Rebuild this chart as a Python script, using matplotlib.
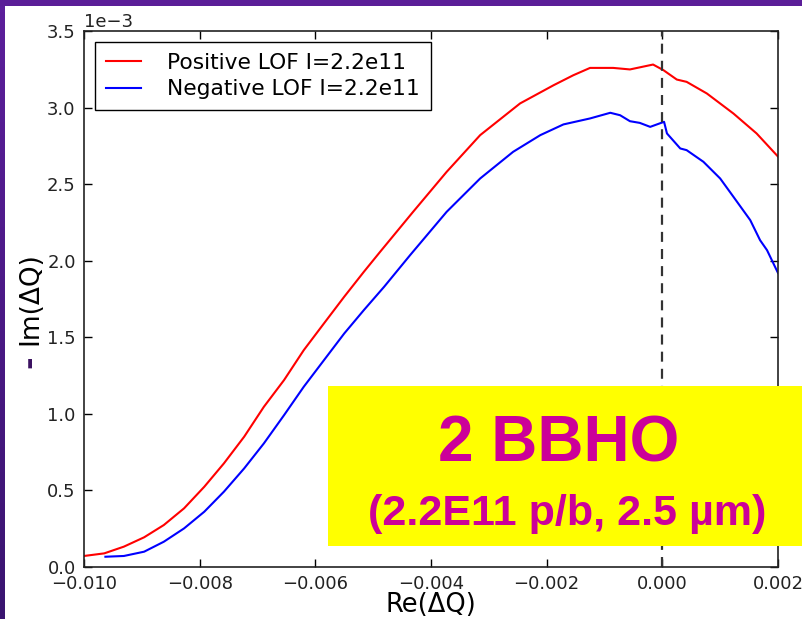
import numpy as np
import matplotlib
matplotlib.use("Agg")
import matplotlib.pyplot as plt
from matplotlib.patches import Rectangle
from matplotlib.colors import LinearSegmentedColormap

# Positive LOF curve (Re, -Im in units of 1e-3)
pos_re = [-0.01000, -0.00965, -0.00931, -0.00896, -0.00862, -0.00827, -0.00792,
          -0.00758, -0.00723, -0.00689, -0.00654, -0.00620, -0.00585, -0.00550,
          -0.00516, -0.00488, -0.00431, -0.00373, -0.00315, -0.00246, -0.00188,
          -0.00154, -0.00125, -0.00085, -0.00056, -0.00016, 0.00002, 0.00025,
          0.00042, 0.00077, 0.00123, 0.00163, 0.00200]
pos_im = [0.072, 0.089, 0.133, 0.194, 0.274, 0.383, 0.524,
          0.677, 0.851, 1.046, 1.221, 1.416, 1.591, 1.765,
          1.928, 2.058, 2.319, 2.580, 2.820, 3.027, 3.146,
          3.211, 3.259, 3.259, 3.249, 3.281, 3.244, 3.183,
          3.168, 3.092, 2.961, 2.831, 2.680]

# Negative LOF curve
neg_re = [-0.00963, -0.00931, -0.00896, -0.00862, -0.00827, -0.00792, -0.00758,
          -0.00723, -0.00689, -0.00654, -0.00620, -0.00585, -0.00550, -0.00516,
          -0.00481, -0.00436, -0.00373, -0.00315, -0.00258, -0.00211, -0.00171,
          -0.00125, -0.00090, -0.00073, -0.00056, -0.00039, -0.00021, 0.00003,
          0.00008, 0.00031, 0.00042, 0.00071, 0.00100, 0.00123, 0.00152,
          0.00169, 0.00181, 0.00200]
neg_im = [0.067, 0.072, 0.100, 0.165, 0.252, 0.361, 0.492,
          0.644, 0.807, 0.992, 1.177, 1.351, 1.525, 1.678,
          1.830, 2.037, 2.319, 2.537, 2.711, 2.820, 2.890,
          2.929, 2.966, 2.950, 2.911, 2.900, 2.874, 2.907,
          2.831, 2.733, 2.722, 2.646, 2.537, 2.417, 2.265,
          2.134, 2.069, 1.920]

labels = ["Positive LOF I=2.2e11", "Negative LOF I=2.2e11"]

W, H = 802, 619
fig = plt.figure(figsize=(W / 100, H / 100), dpi=100)
fig.patch.set_facecolor("#5b1e98")

# white picture area on the purple slide
fig.patches.append(Rectangle((5 / W, 0), 1, 1 - 6 / H, transform=fig.transFigure,
                             facecolor="white", edgecolor="none", zorder=-10))
# darker gradient down the left strip
grad_ax = fig.add_axes([0, 0, 5 / W, 1 - 6 / H])
cmap = LinearSegmentedColormap.from_list("slide", ["#5c1f9b", "#3a1470"])
grad_ax.imshow(np.linspace(0, 1, 100).reshape(-1, 1), aspect="auto", cmap=cmap)
grad_ax.axis("off")

ax = fig.add_axes([84 / W, 1 - 567 / H, (778 - 84) / W, (567 - 31) / H])
ax.set_zorder(2)
ax.plot(pos_re, np.array(pos_im) * 1e-3, color="red", lw=1.5, label=labels[0])
ax.plot(neg_re, np.array(neg_im) * 1e-3, color="blue", lw=1.5, label=labels[1])
ax.axvline(0.0, color="#333333", lw=1.6, linestyle=(0, (4.5, 3.2)))

ax.set_xlim(-0.010, 0.002)
ax.set_ylim(0, 0.0035)
ax.set_xticks(np.arange(-0.010, 0.0021, 0.002))
ax.set_yticks(np.arange(0, 0.00351, 0.0005))
ax.ticklabel_format(axis="y", style="sci", scilimits=(0, 0))
ax.yaxis.get_offset_text().set_fontsize(13)
ax.tick_params(direction="in", length=6, width=1, top=True, right=True,
               labelsize=13, labelcolor="#222222", pad=6)
for sp in ax.spines.values():
    sp.set_linewidth(1.2)
    sp.set_color("#222222")

ax.set_xlabel("Re(ΔQ)", fontsize=18.5, labelpad=-1)
ax.set_ylabel("Im(ΔQ)", fontsize=19)
ax.yaxis.set_label_coords(-0.059, 0.5)
fig.text(30 / W, 1 - 362 / H, "-", rotation=90, fontsize=22, fontweight="bold",
         color="#3a1060", ha="center", va="center")

leg = ax.legend(loc="upper left", fontsize=15.7, fancybox=False, framealpha=1,
                edgecolor="black", handlelength=1.6, handletextpad=1.2,
                labelspacing=0.3, borderaxespad=0.5, borderpad=0.5)
leg.get_frame().set_linewidth(1.0)

# yellow note box laid over the plot
fig.patches.append(Rectangle((328 / W, 1 - 546 / H), (W - 328) / W, (546 - 386) / H,
                             transform=fig.transFigure, facecolor="#ffff00",
                             edgecolor="none", zorder=5))
fig.text(559 / W, 1 - 461 / H, "2 BBHO", fontsize=46, fontweight="bold",
         family="Liberation Sans", color="#cc0099", ha="center", va="baseline", zorder=6)
fig.text(567 / W, 1 - 525 / H, "(2.2E11 p/b, 2.5 µm)", fontsize=31, fontweight="bold",
         family="Liberation Sans", color="#cc0099", ha="center", va="baseline", zorder=6)

fig.savefig("out.png", dpi=100, facecolor=fig.get_facecolor())
